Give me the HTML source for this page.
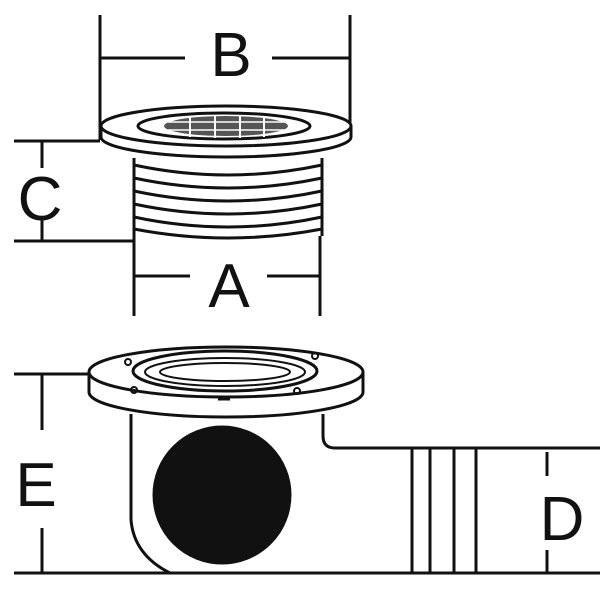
<!DOCTYPE html>
<html><head><style>html,body{margin:0;padding:0;background:#fff}svg{display:block}</style></head>
<body>
<svg width="600" height="600" viewBox="0 0 600 600" xmlns="http://www.w3.org/2000/svg">
<g stroke="#111" stroke-width="3" fill="none" stroke-linecap="butt">
<!-- B -->
<line x1="100" y1="15" x2="100" y2="140"/>
<line x1="350" y1="15" x2="350" y2="125"/>
<line x1="100" y1="58" x2="185" y2="58"/>
<line x1="272" y1="58" x2="350" y2="58"/>
<!-- C -->
<line x1="14" y1="141" x2="100" y2="141"/>
<line x1="14" y1="241" x2="135" y2="241"/>
<line x1="42" y1="141" x2="42" y2="168"/>
<line x1="42" y1="220" x2="42" y2="241"/>
<!-- A -->
<line x1="134" y1="241" x2="134" y2="316"/>
<line x1="320" y1="236" x2="320" y2="316"/>
<line x1="134" y1="276" x2="190" y2="276"/>
<line x1="267" y1="276" x2="320" y2="276"/>
<!-- top drain body -->
<line x1="134" y1="158" x2="134" y2="241"/>
<line x1="322" y1="158" x2="322" y2="236"/>
<path d="M134 165 Q228 185 322 165"/>
<path d="M134 178 Q228 198 322 178"/>
<path d="M134 191 Q228 211 322 191"/>
<path d="M134 204 Q228 224 322 204"/>
<path d="M134 217 Q228 237 322 217"/>
<path d="M134 229 Q228 247 322 229"/>
<!-- flange -->
<path d="M101 126 L101 137 A125 20 0 0 0 351 137 L351 126" fill="#fff"/>
<ellipse cx="226" cy="126" rx="125" ry="20" fill="#fff"/>
<ellipse cx="224" cy="126" rx="86" ry="13" fill="#fff"/>
<ellipse cx="226" cy="126" rx="62" ry="10" fill="#555" stroke="none"/>
<line x1="190" y1="116" x2="190" y2="137" stroke="#fff" stroke-width="2"/>
<line x1="215" y1="115" x2="215" y2="138" stroke="#fff" stroke-width="2"/>
<line x1="240" y1="115" x2="240" y2="138" stroke="#fff" stroke-width="2"/>
<line x1="264" y1="116" x2="264" y2="137" stroke="#fff" stroke-width="2"/>
<line x1="168" y1="122" x2="286" y2="122" stroke="#fff" stroke-width="1.5"/>
<line x1="168" y1="130" x2="286" y2="130" stroke="#fff" stroke-width="1.5"/>
<!-- E -->
<line x1="14" y1="374" x2="90" y2="374"/>
<line x1="42" y1="374" x2="42" y2="430"/>
<line x1="42" y1="528" x2="42" y2="573"/>
<line x1="14" y1="573" x2="600" y2="573"/>
<!-- bottom body -->
<path d="M131 414 L131 520 Q134 555 170 573"/>
<path d="M323 414 L323 436 Q323 448 335 448 L600 448"/>
<ellipse cx="222" cy="495" rx="68" ry="68" fill="#111"/>
<line x1="412" y1="448" x2="412" y2="573"/>
<line x1="430" y1="448" x2="430" y2="573"/>
<line x1="454" y1="448" x2="454" y2="573"/>
<line x1="476" y1="448" x2="476" y2="573"/>
<line x1="547" y1="452" x2="547" y2="476"/>
<line x1="547" y1="550" x2="547" y2="573"/>
<!-- bottom flange -->
<path d="M89 372 L89 392 A137 25 0 0 0 363 392 L363 372" fill="#fff"/>
<ellipse cx="226" cy="372" rx="137" ry="25" fill="#fff"/>
<ellipse cx="225" cy="371" rx="92" ry="20"/>
<ellipse cx="225" cy="372" rx="80" ry="14" stroke-width="2"/>
<ellipse cx="225" cy="372" rx="65" ry="9" stroke-width="2"/>
<circle cx="128" cy="362" r="3" stroke-width="2"/>
<circle cx="134" cy="390" r="3" stroke-width="2"/>
<circle cx="315" cy="356" r="3" stroke-width="2"/>
<circle cx="297" cy="391" r="3" stroke-width="2"/>
<line x1="218" y1="399" x2="230" y2="399" stroke-width="3"/>
</g>
<g font-family="Liberation Sans, sans-serif" font-size="62" fill="#111" text-anchor="middle">
<text x="231" y="76">B</text>
<text x="40" y="220">C</text>
<text x="229" y="307">A</text>
<text x="36" y="506">E</text>
<text x="562" y="540">D</text>
</g>
</svg>
</body></html>
